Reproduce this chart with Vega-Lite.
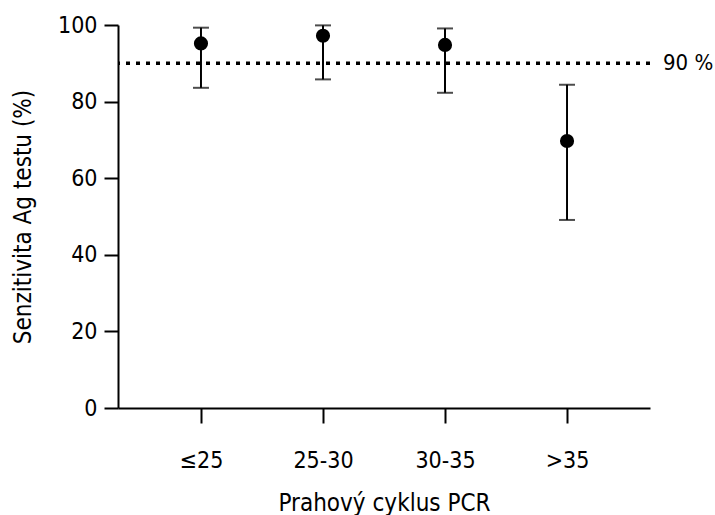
{
  "$schema": "https://vega.github.io/schema/vega-lite/v6.json",
  "width": 532,
  "height": 383,
  "autosize": {"type": "none"},
  "padding": {"left": 118, "top": 25, "right": 65, "bottom": 107},
  "background": "white",
  "config": {
    "view": {"stroke": null},
    "font": "DejaVu Sans Condensed",
    "axis": {
      "grid": false,
      "domainColor": "black",
      "domainWidth": 2,
      "tickColor": "black",
      "tickWidth": 2,
      "labelColor": "black",
      "titleColor": "black",
      "labelFontSize": 23,
      "titleFontSize": 24,
      "titleFontWeight": "normal",
      "labelFont": "DejaVu Sans Condensed",
      "titleFont": "DejaVu Sans Condensed"
    }
  },
  "datasets": {
    "s": [
      {"cat": "≤25", "v": 95.2, "lo": 83.6, "hi": 99.3},
      {"cat": "25-30", "v": 97.2, "lo": 85.8, "hi": 99.9},
      {"cat": "30-35", "v": 94.8, "lo": 82.3, "hi": 99.1},
      {"cat": ">35", "v": 69.7, "lo": 49.1, "hi": 84.4}
    ],
    "ref": [{"y": 90, "label": "90 %"}]
  },
  "layer": [
    {
      "data": {"name": "ref"},
      "mark": {"type": "rule", "color": "black", "strokeWidth": 3.5, "strokeDash": [4, 6]},
      "encoding": {
        "y": {"field": "y", "type": "quantitative", "title": "Senzitivita Ag testu (%)", "scale": {"domain": [0, 100], "nice": false},
          "axis": {"title": "Senzitivita Ag testu (%)", "values": [0, 20, 40, 60, 80, 100], "tickSize": 14, "labelPadding": 7, "titlePadding": 22}}
      }
    },
    {
      "data": {"name": "ref"},
      "mark": {"type": "text", "align": "left", "baseline": "middle", "dx": 13, "fontSize": 22, "color": "black", "font": "DejaVu Sans Condensed"},
      "encoding": {
        "y": {"field": "y", "type": "quantitative", "title": "Senzitivita Ag testu (%)"},
        "x": {"value": "width"},
        "text": {"field": "label"}
      }
    },
    {
      "data": {"name": "s"},
      "mark": {"type": "errorbar", "color": "black", "thickness": 2, "ticks": {"size": 16, "color": "black"}, "rule": {"strokeWidth": 2, "color": "black"}},
      "encoding": {
        "x": {"field": "cat", "type": "nominal", "title": "Prahový cyklus PCR", "sort": ["≤25", "25-30", "30-35", ">35"],
          "scale": {"type": "point", "padding": 0.68},
          "axis": {"title": "Prahový cyklus PCR", "labelAngle": 0, "tickSize": 15, "labelPadding": 26, "titlePadding": 19}},
        "y": {"field": "lo", "type": "quantitative", "title": "Senzitivita Ag testu (%)"},
        "y2": {"field": "hi"}
      }
    },
    {
      "data": {"name": "s"},
      "mark": {"type": "point", "filled": true, "size": 200, "color": "black", "opacity": 1},
      "encoding": {
        "x": {"field": "cat", "type": "nominal", "title": "Prahový cyklus PCR", "sort": ["≤25", "25-30", "30-35", ">35"]},
        "y": {"field": "v", "type": "quantitative", "title": "Senzitivita Ag testu (%)"}
      }
    }
  ]
}
